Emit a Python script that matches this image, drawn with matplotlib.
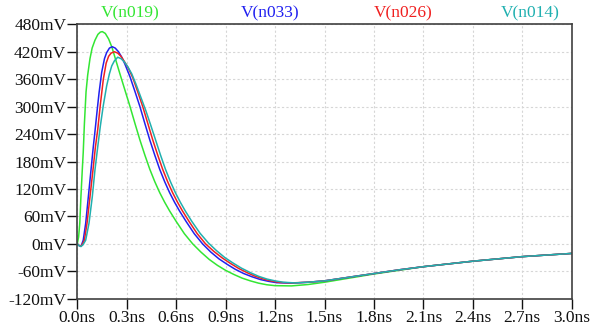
import numpy as np
import matplotlib.pyplot as plt

# datos (tiempo en ns, tension en mV)
t_n019 = [0, 0.008, 0.015, 0.022, 0.03, 0.036, 0.043, 0.053, 0.063, 0.077, 0.09, 0.107,
          0.125, 0.14, 0.152, 0.17, 0.19, 0.21, 0.23, 0.26, 0.29, 0.32, 0.35, 0.38,
          0.41, 0.44, 0.47, 0.5, 0.53, 0.56, 0.6, 0.65, 0.7, 0.75, 0.8, 0.85, 0.9,
          0.95, 1.0, 1.05, 1.1, 1.15, 1.2, 1.3, 1.4, 1.5, 1.65, 1.8, 1.95, 2.1, 2.25,
          2.4, 2.55, 2.7, 2.85, 3.0]
v_n019 = [0, 15, 45, 103, 160, 200, 262, 332, 369, 405, 428, 445,
          458, 463, 464, 460, 448, 430, 406, 370, 335, 300, 263, 227,
          194, 163, 136, 112, 91, 72, 49, 22, 0, -18, -34, -47, -58,
          -67, -75, -81, -86, -89.5, -91.5, -92, -89, -84, -75, -66, -58, -50, -44,
          -38, -33, -28, -24.5, -21]

t_n033 = [0, 0.008, 0.016, 0.025, 0.036, 0.051, 0.067, 0.083, 0.097, 0.107, 0.12, 0.132,
          0.148, 0.165, 0.178, 0.195, 0.212, 0.23, 0.25, 0.27, 0.29, 0.32, 0.35, 0.38,
          0.41, 0.44, 0.47, 0.5, 0.53, 0.56, 0.59, 0.62, 0.66, 0.71, 0.76, 0.81, 0.86,
          0.91, 0.96, 1.01, 1.06, 1.11, 1.16, 1.21, 1.3, 1.4, 1.5, 1.65, 1.8, 1.95,
          2.1, 2.25, 2.4, 2.55, 2.7, 2.85, 3.0]
v_n033 = [0, -3, -5, -3, 8, 45, 103, 161, 212, 245, 290, 330,
          375, 405, 418, 428, 431, 428, 420, 408, 392, 365, 333, 300,
          263, 227, 194, 163, 136, 112, 91, 72, 49, 22, 0, -18, -33,
          -45, -56, -65, -72, -78, -82, -85, -86, -84, -81, -73, -65, -57,
          -50, -44, -38, -33, -28, -24.5, -21]

t_n026 = [0, 0.008, 0.018, 0.028, 0.043, 0.059, 0.077, 0.095, 0.11, 0.124, 0.14, 0.158,
          0.175, 0.19, 0.205, 0.225, 0.245, 0.265, 0.285, 0.31, 0.338, 0.368, 0.398,
          0.428, 0.458, 0.488, 0.518, 0.548, 0.578, 0.608, 0.638, 0.678, 0.728, 0.778,
          0.83, 0.88, 0.93, 0.98, 1.03, 1.08, 1.13, 1.18, 1.23, 1.3, 1.4, 1.5, 1.65,
          1.8, 1.95, 2.1, 2.25, 2.4, 2.55, 2.7, 2.85, 3.0]
v_n026 = [0, -3, -5, -3, 8, 45, 103, 161, 212, 250, 305, 360,
          395, 410, 417, 420, 417, 410, 399, 384, 362, 331, 299,
          263, 227, 194, 163, 136, 112, 91, 72, 49, 22, 0,
          -17, -31, -43, -54, -63, -71, -77, -81.5, -84.5, -85.5, -84, -81, -73,
          -65, -57, -50, -44, -38, -33, -28, -24.5, -21]

t_n014 = [0, 0.01, 0.022, 0.035, 0.051, 0.071, 0.091, 0.107, 0.124, 0.14, 0.158, 0.178,
          0.195, 0.209, 0.225, 0.245, 0.265, 0.285, 0.305, 0.33, 0.355, 0.385, 0.415,
          0.445, 0.475, 0.505, 0.535, 0.565, 0.595, 0.625, 0.655, 0.695, 0.745, 0.795,
          0.845, 0.895, 0.945, 0.995, 1.05, 1.1, 1.15, 1.2, 1.25, 1.32, 1.4, 1.5, 1.65,
          1.8, 1.95, 2.1, 2.25, 2.4, 2.55, 2.7, 2.85, 3.0]
v_n014 = [0, -4, -6, -2, 8, 45, 103, 161, 212, 258, 303, 345,
          372, 389, 400, 408, 405, 398, 388, 372, 350, 321, 292,
          260, 227, 194, 163, 136, 112, 91, 72, 49, 23, 2,
          -15, -30, -42, -53, -63, -71, -77, -81, -84, -85.5, -84, -81, -73,
          -65, -57, -50, -44, -38, -33, -28, -24.5, -21]

nombres = ['V(n019)', 'V(n033)', 'V(n026)', 'V(n014)']
colores = ['#33e633', '#2020f0', '#f02020', '#20b0b0']
pos_x = [130, 270, 403, 530]

yticks = np.arange(-120, 481, 60)
xticks = np.round(np.arange(0, 3.01, 0.3), 1)

plt.rcParams['font.family'] = ['Liberation Serif', 'DejaVu Serif']

fig = plt.figure(figsize=(5.9, 3.31), dpi=100)
ax = fig.add_axes([77.3 / 590, 1 - 298.7 / 331, (571.7 - 77.3) / 590, (298.7 - 24.3) / 331])

series = [(t_n019, v_n019), (t_n033, v_n033), (t_n026, v_n026), (t_n014, v_n014)]
for (t, v), c in zip(series, colores):
    ax.plot(t, v, color=c, lw=1.1)

ax.set_xlim(0, 3.0)
ax.set_ylim(-120, 480)
ax.set_yticks(yticks)
ax.set_yticklabels([f'{int(y)}mV' for y in yticks])
ax.set_xticks(xticks)
ax.set_xticklabels([f'{x:.1f}ns' for x in xticks])
ax.tick_params(direction='out', length=7, width=1, labelsize=12.5, colors='#111111', pad=1)
ax.grid(True, color='#d6d6d6', linestyle=(0, (2, 2)), lw=0.8)
for s in ax.spines.values():
    s.set_color('#404040')
    s.set_linewidth(1.2)

for n, c, x in zip(nombres, colores, pos_x):
    fig.text(x / 590, 1 - 13 / 331, n, color=c, fontsize=12.5, ha='center', va='center')

plt.savefig('out.png')
